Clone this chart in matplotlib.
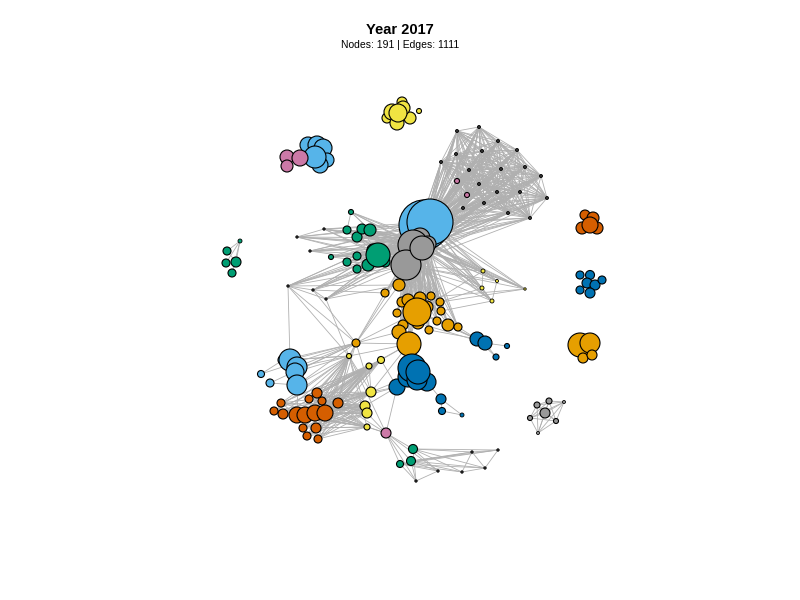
import itertools
import matplotlib.pyplot as plt
from matplotlib.patches import Circle
from matplotlib.collections import LineCollection

plt.rcParams["font.family"] = ["Liberation Sans", "DejaVu Sans"]

title = "Year 2017"
subtitle = "Nodes: 191 | Edges: 1111"

colors = {
    "sky": "#56B4E9", "orange": "#E69F00", "green": "#009E73", "yellow": "#F0E442",
    "blue": "#0072B2", "red": "#D55E00", "pink": "#CC79A7", "gray": "#999999",
    "dot": "#333333",
}

# node clusters: x, y, radius (layout units), colour
clique_x = [457, 479, 498, 517, 482, 456, 441, 469, 501, 525, 541, 457, 479, 467, 497, 520, 484, 547, 508, 530, 463]
clique_y = [131, 127, 141, 150, 151, 154, 162, 170, 169, 167, 176, 181, 184, 195, 192, 192, 203, 198, 213, 218, 208]
clique_r = [1.5] * 11 + [2.5, 1.5, 2.5] + [1.5] * 7

hub_x = [424, 430]
hub_y = [225, 222]
hub_r = [25, 23]

gray_big_x = [420, 413, 428, 406, 422]
gray_big_y = [238, 245, 244, 265, 248]
gray_big_r = [10, 15, 8, 15, 12]

green_mid_x = [373, 385, 368, 357, 347, 357, 357, 347, 362, 370, 351, 331, 378]
green_mid_y = [250, 262, 265, 269, 262, 256, 237, 230, 229, 230, 212, 257, 255]
green_mid_r = [6, 5, 6, 4, 4, 4, 5, 4, 5, 6, 2.5, 2.5, 12]

pts_left_x = [297, 324, 310, 288, 313, 326]
pts_left_y = [237, 229, 251, 286, 290, 299]
pts_left_r = [1.2] * 6

green_left_x = [240, 227, 236, 226, 232]
green_left_y = [241, 251, 262, 263, 273]
green_left_r = [2, 4, 5, 4, 4]

orange_mid_x = [399, 385, 420, 431, 440, 441, 437, 429, 448, 458, 397, 403, 399, 402, 408, 418, 427, 417, 409]
orange_mid_y = [285, 293, 298, 296, 302, 311, 321, 330, 325, 327, 313, 325, 332, 302, 300, 323, 307, 312, 344]
orange_mid_r = [6, 4, 6, 4, 4, 4, 4, 4, 6, 4, 4, 5, 7, 5, 6, 6, 6, 14, 12]

orange_left_x = [356]
orange_left_y = [343]
orange_left_r = [4]

blue_mid_x = [477, 485, 507, 496, 441, 442, 462, 397, 408, 412, 427, 417, 418]
blue_mid_y = [339, 343, 346, 357, 399, 411, 415, 387, 377, 368, 382, 380, 372]
blue_mid_r = [7, 7, 2.5, 3, 5, 3.5, 2, 8, 10, 14, 9, 10, 12]

sky_left_x = [283, 261, 270, 290, 297, 295, 297]
sky_left_y = [360, 374, 383, 360, 367, 372, 385]
sky_left_r = [5, 3.5, 4, 11, 10, 9, 10]

red_left_x = [317, 322, 309, 281, 283, 274, 303, 316, 307, 318, 338, 297, 305, 315, 325]
red_left_y = [393, 401, 399, 403, 414, 411, 428, 428, 436, 439, 403, 415, 415, 413, 413]
red_left_r = [5, 4, 4, 4, 5, 4, 4, 5, 4, 4, 5, 8, 8, 8, 8]

yellow_mid_x = [349, 369, 381, 371, 365, 367, 367]
yellow_mid_y = [356, 366, 360, 392, 406, 413, 427]
yellow_mid_r = [2.5, 3, 3.5, 5, 5, 5, 3]

pink_mid_x = [386]
pink_mid_y = [433]
pink_mid_r = [5]

green_bottom_x = [413, 411, 400]
green_bottom_y = [449, 461, 464]
green_bottom_r = [4.5, 4.5, 3.5]

pts_bottom_x = [438, 416, 472, 498, 462, 485]
pts_bottom_y = [471, 481, 452, 450, 472, 468]
pts_bottom_r = [1.2] * 6

yellow_right_x = [483, 497, 482, 492, 525]
yellow_right_y = [271, 281, 288, 301, 289]
yellow_right_r = [2, 1.5, 2, 2, 1.2]

yellow_top_x = [402, 387, 392, 410, 397, 403, 398, 419]
yellow_top_y = [102, 118, 112, 118, 123, 108, 113, 111]
yellow_top_r = [5, 5, 8, 6, 7, 7, 9, 2.5]

sky_top_x = [308, 317, 323, 327, 320, 315]
sky_top_y = [145, 145, 148, 160, 165, 157]
sky_top_r = [8, 9, 9, 7, 8, 11]

pink_top_x = [287, 287, 300]
pink_top_y = [157, 166, 158]
pink_top_r = [7, 6, 8]

red_right_x = [585, 593, 582, 597, 590]
red_right_y = [215, 218, 228, 228, 225]
red_right_r = [5, 6, 6, 6, 8]

blue_right_x = [590, 580, 587, 595, 602, 580, 590]
blue_right_y = [275, 275, 283, 285, 280, 290, 293]
blue_right_r = [4.5, 4, 5, 5, 4, 4, 5]

orange_right_x = [580, 590, 583, 592]
orange_right_y = [345, 343, 358, 355]
orange_right_r = [12, 10, 5, 5]

gray_right_x = [545, 537, 549, 530, 556, 564, 538]
gray_right_y = [413, 405, 401, 418, 421, 402, 433]
gray_right_r = [5, 3, 3, 2.5, 2.5, 1.5, 1.5]

clusters = {
    "clique": (clique_x, clique_y, clique_r, "dot"),
    "hub": (hub_x, hub_y, hub_r, "sky"),
    "gray_big": (gray_big_x, gray_big_y, gray_big_r, "gray"),
    "green_mid": (green_mid_x, green_mid_y, green_mid_r, "green"),
    "pts_left": (pts_left_x, pts_left_y, pts_left_r, "dot"),
    "green_left": (green_left_x, green_left_y, green_left_r, "green"),
    "orange_mid": (orange_mid_x, orange_mid_y, orange_mid_r, "orange"),
    "orange_left": (orange_left_x, orange_left_y, orange_left_r, "orange"),
    "blue_mid": (blue_mid_x, blue_mid_y, blue_mid_r, "blue"),
    "sky_left": (sky_left_x, sky_left_y, sky_left_r, "sky"),
    "red_left": (red_left_x, red_left_y, red_left_r, "red"),
    "yellow_mid": (yellow_mid_x, yellow_mid_y, yellow_mid_r, "yellow"),
    "pink_mid": (pink_mid_x, pink_mid_y, pink_mid_r, "pink"),
    "green_bottom": (green_bottom_x, green_bottom_y, green_bottom_r, "green"),
    "pts_bottom": (pts_bottom_x, pts_bottom_y, pts_bottom_r, "dot"),
    "yellow_right": (yellow_right_x, yellow_right_y, yellow_right_r, "yellow"),
    "yellow_top": (yellow_top_x, yellow_top_y, yellow_top_r, "yellow"),
    "sky_top": (sky_top_x, sky_top_y, sky_top_r, "sky"),
    "pink_top": (pink_top_x, pink_top_y, pink_top_r, "pink"),
    "red_right": (red_right_x, red_right_y, red_right_r, "red"),
    "blue_right": (blue_right_x, blue_right_y, blue_right_r, "blue"),
    "orange_right": (orange_right_x, orange_right_y, orange_right_r, "orange"),
    "gray_right": (gray_right_x, gray_right_y, gray_right_r, "gray"),
}

# all-to-all link blocks between clusters
edge_blocks = [
    ("clique", "clique"), ("clique", "hub"), ("clique", "gray_big"),
    ("pts_left", "hub"), ("pts_left", "gray_big"),
    ("orange_mid", "gray_big"), ("yellow_right", "hub"), ("yellow_right", "gray_big"),
    ("sky_left", "orange_left"), ("red_left", "yellow_mid"),
    ("green_bottom", "pts_bottom"), ("gray_right", "gray_right"),
    ("green_mid", "gray_big"),
]

# single links: (cluster, index, cluster, index)
edge_list = [
    ("pts_left", 0, "pts_left", 1), ("pts_left", 0, "green_mid", 12), ("pts_left", 1, "green_mid", 12),
    ("pts_left", 2, "green_mid", 12), ("pts_left", 3, "pts_left", 4), ("pts_left", 3, "pts_left", 5),
    ("pts_left", 4, "pts_left", 5), ("pts_left", 3, "orange_mid", 0), ("pts_left", 4, "orange_mid", 1),
    ("pts_left", 5, "orange_mid", 0), ("pts_left", 3, "yellow_mid", 0), ("pts_left", 5, "yellow_mid", 0),
    ("pts_left", 3, "orange_left", 0), ("pts_left", 4, "orange_left", 0),
    ("green_mid", 10, "green_mid", 7), ("green_mid", 10, "green_mid", 9), ("green_mid", 6, "green_mid", 12),
    ("green_mid", 8, "green_mid", 12), ("green_mid", 11, "green_mid", 12), ("green_mid", 11, "hub", 0),
    ("green_mid", 6, "hub", 0), ("green_mid", 3, "hub", 0),
    ("green_left", 0, "green_left", 1), ("green_left", 0, "green_left", 2), ("green_left", 0, "green_left", 3),
    ("green_left", 0, "green_left", 4), ("green_left", 1, "green_left", 2), ("green_left", 2, "green_left", 4),
    ("orange_left", 0, "orange_mid", 0), ("orange_left", 0, "orange_mid", 1), ("orange_left", 0, "orange_mid", 17),
    ("orange_left", 0, "orange_mid", 18), ("orange_left", 0, "orange_mid", 12), ("orange_left", 0, "gray_big", 3),
    ("orange_left", 0, "yellow_mid", 0), ("orange_left", 0, "yellow_mid", 3), ("orange_left", 0, "red_left", 10),
    ("sky_left", 3, "yellow_mid", 0), ("sky_left", 4, "yellow_mid", 0), ("sky_left", 5, "yellow_mid", 0),
    ("sky_left", 6, "yellow_mid", 0), ("sky_left", 0, "yellow_mid", 0), ("sky_left", 1, "sky_left", 0),
    ("sky_left", 2, "sky_left", 6), ("sky_left", 6, "red_left", 11), ("sky_left", 3, "pts_left", 3),
    ("yellow_mid", 0, "orange_mid", 18), ("yellow_mid", 0, "yellow_mid", 3), ("yellow_mid", 0, "yellow_mid", 4),
    ("yellow_mid", 0, "yellow_mid", 6), ("yellow_mid", 0, "pink_mid", 0), ("yellow_mid", 1, "orange_mid", 18),
    ("yellow_mid", 2, "orange_mid", 18), ("yellow_mid", 1, "yellow_mid", 3), ("yellow_mid", 2, "blue_mid", 7),
    ("yellow_mid", 3, "blue_mid", 7), ("yellow_mid", 3, "blue_mid", 8), ("yellow_mid", 4, "blue_mid", 7),
    ("yellow_mid", 3, "orange_mid", 18), ("yellow_mid", 6, "pink_mid", 0), ("yellow_mid", 5, "pink_mid", 0),
    ("pink_mid", 0, "blue_mid", 7), ("pink_mid", 0, "red_left", 14), ("pink_mid", 0, "red_left", 10),
    ("pink_mid", 0, "green_bottom", 0), ("pink_mid", 0, "green_bottom", 1), ("pink_mid", 0, "green_bottom", 2),
    ("pink_mid", 0, "pts_bottom", 0), ("pink_mid", 0, "pts_bottom", 1),
    ("pts_bottom", 2, "pts_bottom", 3), ("pts_bottom", 2, "pts_bottom", 4), ("pts_bottom", 3, "pts_bottom", 5),
    ("pts_bottom", 4, "pts_bottom", 5), ("pts_bottom", 2, "pts_bottom", 5), ("pts_bottom", 0, "pts_bottom", 1),
    ("blue_mid", 0, "orange_mid", 17), ("blue_mid", 0, "orange_mid", 9), ("blue_mid", 0, "orange_mid", 8),
    ("blue_mid", 1, "orange_mid", 17), ("blue_mid", 1, "orange_mid", 15), ("blue_mid", 0, "orange_mid", 7),
    ("blue_mid", 1, "blue_mid", 2), ("blue_mid", 1, "blue_mid", 3), ("blue_mid", 0, "blue_mid", 3),
    ("blue_mid", 9, "orange_mid", 18), ("blue_mid", 12, "orange_mid", 18), ("blue_mid", 7, "orange_mid", 18),
    ("blue_mid", 10, "blue_mid", 4), ("blue_mid", 4, "blue_mid", 5), ("blue_mid", 4, "blue_mid", 6),
    ("blue_mid", 5, "blue_mid", 6), ("blue_mid", 9, "orange_mid", 12),
    ("orange_mid", 17, "hub", 0), ("orange_mid", 0, "hub", 0), ("orange_mid", 2, "hub", 1),
    ("orange_mid", 17, "orange_mid", 18), ("orange_mid", 17, "orange_mid", 0), ("orange_mid", 17, "orange_mid", 8),
    ("orange_mid", 17, "orange_mid", 9), ("orange_mid", 12, "orange_mid", 18), ("orange_mid", 17, "orange_mid", 12),
    ("yellow_right", 0, "orange_mid", 17), ("yellow_right", 2, "orange_mid", 4), ("yellow_right", 3, "orange_mid", 5),
    ("yellow_right", 4, "orange_mid", 4), ("yellow_right", 4, "orange_mid", 2), ("yellow_right", 0, "yellow_right", 2),
    ("yellow_right", 0, "yellow_right", 4), ("yellow_right", 1, "yellow_right", 3), ("yellow_right", 2, "yellow_right", 3),
    ("red_left", 10, "yellow_mid", 0), ("red_left", 0, "red_left", 13), ("red_left", 3, "red_left", 11),
    ("red_left", 10, "blue_mid", 7), ("red_left", 14, "orange_left", 0),
]

edge_color = "#b0b0b0"
title_y, subtitle_y = 30, 45


def label_nodes(name):
    xs, ys, rs, col = clusters[name]
    return list(zip(xs, ys))


segments = []
for a, b in edge_blocks:
    pa, pb = label_nodes(a), label_nodes(b)
    if a == b:
        segments += [(p, q) for p, q in itertools.combinations(pa, 2)]
    else:
        segments += [(p, q) for p in pa for q in pb]
for a, i, b, j in edge_list:
    segments.append((label_nodes(a)[i], label_nodes(b)[j]))

fig = plt.figure(figsize=(8, 6), dpi=100)
ax = fig.add_axes([0, 0, 1, 1])
ax.set_xlim(0, 800)
ax.set_ylim(600, 0)
ax.set_aspect("equal")
ax.axis("off")

ax.add_collection(LineCollection(segments, colors=edge_color, linewidths=0.6, zorder=1))

for name, (xs, ys, rs, col) in clusters.items():
    for x, y, r in zip(xs, ys, rs):
        face = colors[col]
        if name == "clique" and r > 2:
            face = colors["pink"]
        ax.add_patch(Circle((x, y), r, facecolor=face, edgecolor="black",
                            linewidth=0.8 if r > 2 else 0.6, zorder=2))

ax.text(400, title_y, title, ha="center", va="center", fontsize=10.5, fontweight="bold")
ax.text(400, subtitle_y, subtitle, ha="center", va="center", fontsize=7.5)

fig.savefig("out.png", dpi=100)
